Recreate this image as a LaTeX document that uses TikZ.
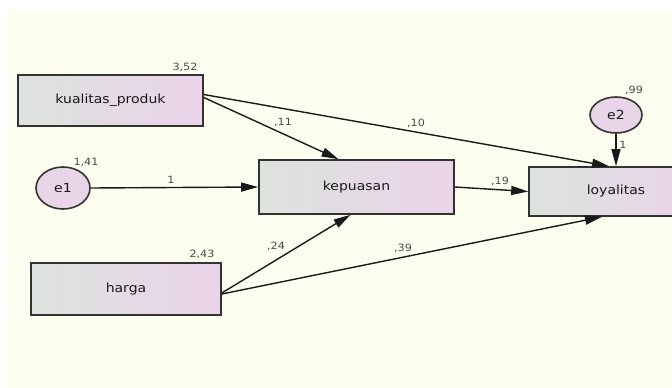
\documentclass[tikz,border=0pt]{standalone}
\usepackage{fontspec}
\setmainfont{DejaVu Sans}[FakeStretch=1.12]
\usetikzlibrary{shapes,arrows.meta}
\definecolor{amosbg}{HTML}{FEFEF0}
\definecolor{boxleft}{HTML}{DCE3DE}
\definecolor{boxright}{HTML}{EBD3E9}
\definecolor{errfill}{HTML}{E8D6E8}
\definecolor{varcol}{HTML}{4A4A4A}

\begin{document}
\begin{tikzpicture}[x=1pt,y=1pt]
        \tikzstyle{every node}+=[inner sep=0pt]
        \tikzstyle{obs}=[draw=black!80, line width=1.6pt, rectangle, left color=boxleft, right color=boxright, text=black!90, font=\fontsize{12.5}{14}\selectfont]
        \tikzstyle{err}=[draw=black!80, line width=1.6pt, ellipse, fill=errfill, text=black!90, font=\fontsize{12.5}{14}\selectfont]
        \tikzstyle{reg}=[draw=black!90, line width=1.4pt, -{Triangle[length=17pt,width=9pt]}]
        \tikzstyle{est}=[text=varcol, font=\fontsize{10}{11}\selectfont]
        \useasboundingbox (0,0) rectangle (672,-388);
        \fill [amosbg] (8,-9) rectangle (672,-388);
        \node [obs, minimum width=185pt, minimum height=51pt] (kp) at (110.5,-100.5) {kualitas\_produk};
        \node [err, minimum width=54pt, minimum height=42pt] (e1) at (63,-188) {e1};
        \node [obs, minimum width=195pt, minimum height=54pt] (kep) at (356.5,-187) {kepuasan};
        \node [obs, minimum width=174pt, minimum height=49pt] (loy) at (616,-191.5) {loyalitas};
        \node [err, minimum width=52pt, minimum height=36pt] (e2) at (616,-115) {e2};
        \node [obs, minimum width=190pt, minimum height=52pt] (ha) at (126,-289) {harga};
        \draw [reg] ([yshift=3pt]kp.east) -- ([xshift=-18pt]kep.north);
        \draw [reg] ([yshift=6pt]kp.east) -- ([xshift=-7pt]loy.north);
        \draw [reg] (e1.east) -- (kep.west);
        \draw [reg] (kep.east) -- (loy.west);
        \draw [reg] ([yshift=-4pt]ha.east) -- ([xshift=-6pt]kep.south);
        \draw [reg] ([yshift=-5pt]ha.east) -- ([xshift=-14pt]loy.south);
        \draw [reg] (e2.south) -- (loy.north);
        \node [est] (vkp) at (185,-67) {3,52};
        \node [est] (ve1) at (86,-162) {1,41};
        \node [est] (ve2) at (634,-90) {,99};
        \node [est] (vha) at (202,-254) {2,43};
        \node [est] (wkpkep) at (283,-122) {,11};
        \node [est] (wkploy) at (416,-123) {,10};
        \node [est] (we1) at (171,-180) {1};
        \node [est] (wkeploy) at (500,-181) {,19};
        \node [est] (we2) at (623,-145) {1};
        \node [est] (whakep) at (276,-246) {,24};
        \node [est] (whaloy) at (403,-248) {,39};
        \end{tikzpicture}
\end{document}
